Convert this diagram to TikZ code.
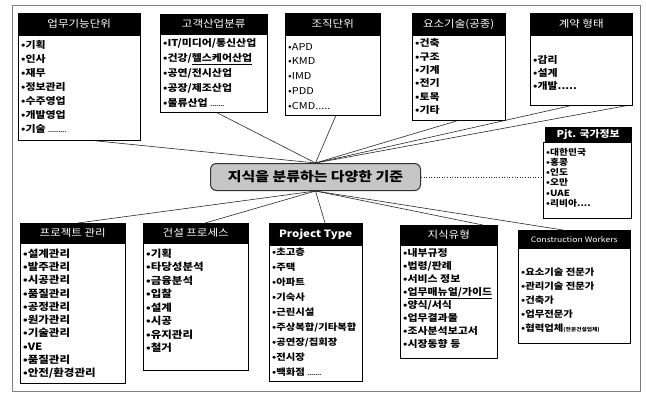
\documentclass[tikz,border=0pt]{standalone}
\usepackage{fontspec}
\setmainfont{Noto Sans CJK KR}[FakeStretch=1.15]
\usetikzlibrary{calc}
\begin{document}
\begin{tikzpicture}[x=1pt,y=-1pt,
  hdr/.style={fill=black, draw=black, text=white, anchor=north west, inner sep=0pt, font=\fontsize{10}{12}\selectfont},
  bodybox/.style={draw=black, line width=0.8pt, anchor=north west, inner sep=0pt, fill=white},
  items/.style={anchor=north west, align=left, inner sep=0pt},
  link/.style={draw=black!85, line width=0.6pt},
]
\useasboundingbox (0,0) rectangle (646,394);
\draw[gray, line width=0.5pt] (12,5) rectangle (640,391);

% top row
\node[bodybox, minimum width=122pt, minimum height=105pt] (b1) at (18,35) {};
\node[hdr, minimum width=122pt, minimum height=22pt] (h1) at (18,13) {업무기능단위};
\node[items, font=\bfseries\fontsize{9.5}{14}\selectfont] (t1) at (21,40.5) {•기획\\•인사\\•재무\\•정보관리\\•수주영업\\•개발영업\\•기술 {\fontsize{5}{6}\selectfont.........}};

\node[bodybox, minimum width=107pt, minimum height=78pt] (b2) at (160,34) {};
\node[hdr, minimum width=107pt, minimum height=20pt] (h2) at (160,14) {고객산업분류};
\node[items, font=\bfseries\fontsize{9.5}{15}\selectfont] (t2) at (163,38.5) {•IT/미디어/통신산업\\•건강/\underline{헬스케어산업}\\•공연/전시산업\\•공장/제조산업\\•물류산업 {\fontsize{5}{6}\selectfont.......}};

\node[bodybox, minimum width=95pt, minimum height=80pt] (b3) at (285,35) {};
\node[hdr, minimum width=95pt, minimum height=22pt] (h3) at (285,13) {조직단위};
\node[items, font=\fontsize{9.5}{14.75}\selectfont] (t3) at (288,43) {•APD\\•KMD\\•IMD\\•PDD\\•CMD.....};

\node[bodybox, minimum width=93pt, minimum height=85pt] (b4) at (412,35) {};
\node[hdr, minimum width=93pt, minimum height=22pt] (h4) at (412,13) {요소기술(공종)};
\node[items, font=\bfseries\fontsize{9.5}{13.4}\selectfont] (t4) at (415,38.5) {•건축\\•구조\\•기계\\•전기\\•토목\\•기타};

\node[bodybox, minimum width=102pt, minimum height=70pt] (b5) at (530,35) {};
\node[hdr, minimum width=102pt, minimum height=22pt] (h5) at (530,13) {계약 형태};
\node[items, font=\bfseries\fontsize{9.5}{13}\selectfont] (t5) at (533,55.5) {•감리\\•설계\\•개발.....};

\node[bodybox, minimum width=88pt, minimum height=76pt] (b6) at (543,142) {};
\node[hdr, minimum width=86pt, minimum height=15pt, font=\bfseries\fontsize{9.5}{11}\selectfont] (h6) at (545,127) {Pjt. 국가정보};
\node[items, font=\bfseries\fontsize{8.5}{10.2}\selectfont] (t6) at (546,148) {•대한민국\\•홍콩\\•인도\\•오만\\•UAE\\•리비아....};

% centre
\node[draw=black!80, fill=gray!45, rounded corners=6pt, minimum width=210pt, minimum height=27pt, anchor=north west, line width=1pt, inner sep=0pt, font=\bfseries\fontsize{13}{15}\selectfont] (c) at (210,163) {지식을 분류하는 다양한 기준};

% bottom row
\node[bodybox, minimum width=105pt, minimum height=140pt] (b7) at (20,243) {};
\node[hdr, minimum width=105pt, minimum height=20pt] (h7) at (20,223) {프로젝트 관리};
\node[items, font=\bfseries\fontsize{10}{13.3}\selectfont] (t7) at (23,248.5) {•설계관리\\•발주관리\\•시공관리\\•품질관리\\•공정관리\\•원가관리\\•기술관리\\•VE\\•품질관리\\•안전/환경관리};

\node[bodybox, minimum width=105pt, minimum height=127pt] (b8) at (143,243) {};
\node[hdr, minimum width=105pt, minimum height=20pt] (h8) at (143,223) {건설 프로세스};
\node[items, font=\bfseries\fontsize{10}{13.5}\selectfont] (t8) at (146,248.5) {•기획\\•타당성분석\\•금융분석\\•입찰\\•설계\\•시공\\•유지관리\\•철거};

\node[bodybox, minimum width=93pt, minimum height=136pt] (b9) at (269,245) {};
\node[hdr, minimum width=93pt, minimum height=22pt, font=\bfseries\fontsize{10}{12}\selectfont] (h9) at (269,223) {Project Type};
\node[items, font=\bfseries\fontsize{9}{15}\selectfont] (t9) at (272,248) {•초고층\\•주택\\•아파트\\•기숙사\\•근린시설\\•주상복합/기타복합\\•공연장/집회장\\•전시장\\•백화점 {\fontsize{5}{6}\selectfont.......}};

\node[bodybox, minimum width=97pt, minimum height=113pt] (b10) at (400,245) {};
\node[hdr, minimum width=97pt, minimum height=20pt] (h10) at (400,225) {지식유형};
\node[items, font=\bfseries\fontsize{9.5}{12.9}\selectfont] (t10) at (403,248.5) {•내부규정\\•법령/판례\\•서비스 정보\\•\underline{업무매뉴얼/가이드}\\•양식/서식\\•업무결과물\\•조사분석보고서\\•시장동향 등};

\node[bodybox, minimum width=112pt, minimum height=95pt] (b11) at (518,248) {};
\node[hdr, minimum width=112pt, minimum height=18pt, font=\fontsize{7.5}{9}\selectfont] (h11) at (518,230) {Construction Workers};
\node[items, font=\bfseries\fontsize{9}{14}\selectfont] (t11) at (521,267.5) {•요소기술 전문가\\•관리기술 전문가\\•건축가\\•업무전문가\\•협력업체{\fontsize{5}{6}\selectfont(전문건설업체)}};

% connectors
\draw[link] ($(b1.south west)!0.63!(b1.south east)$) -- (c.north);
\draw[link] ($(b2.south west)!0.53!(b2.south east)$) -- (c.north);
\draw[link] ($(b3.south west)!0.53!(b3.south east)$) -- (c.north);
\draw[link] ($(b4.south west)!0.48!(b4.south east)$) -- (c.north);
\draw[link] ($(b5.south west)!0.39!(b5.south east)$) -- (c.north);
\draw[link] ($(b5.south west)!0.93!(b5.south east)$) -- (c.north);
\draw[link, dotted] (c.east) -- (c.east -| b6.west);
\draw[link] (c.south) -- ($(h7.north west)!0.55!(h7.north east)$);
\draw[link] (c.south) -- ($(h8.north west)!0.59!(h8.north east)$);
\draw[link] (c.south) -- ($(h9.north west)!0.6!(h9.north east)$);
\draw[link] (c.south) -- ($(h10.north west)!0.85!(h10.north east)$);
\draw[link] (c.south) -- ($(h11.north west)!0.4!(h11.north east)$);
\end{tikzpicture}
\end{document}
